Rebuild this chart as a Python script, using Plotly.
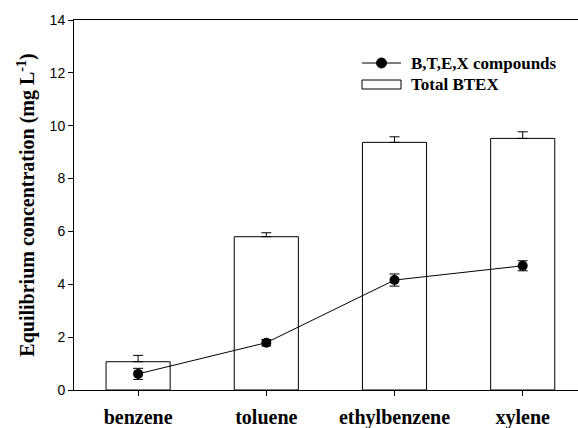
import plotly.graph_objects as go

categories = ["benzene", "toluene", "ethylbenzene", "xylene"]
total_btex = [1.07, 5.80, 9.37, 9.52]
total_btex_err = [0.24, 0.15, 0.21, 0.25]
compounds = [0.61, 1.79, 4.16, 4.70]
compounds_err = [0.21, 0.12, 0.23, 0.19]
y_ticks = [0, 2, 4, 6, 8, 10, 12, 14]

W, H = 578, 428
ML, MR, MT, MB = 74, 0, 20, 38
PW, PH = W - ML - MR, H - MT - MB

serif = "Liberation Serif, Times New Roman, serif"
sans = "Liberation Sans, Arial, sans-serif"

fig = go.Figure()
fig.add_trace(go.Bar(
    x=categories, y=total_btex, width=0.5,
    marker=dict(color="white", line=dict(color="black", width=1)),
    error_y=dict(type="data", array=total_btex_err, arrayminus=[0]*4, symmetric=False,
                 color="black", thickness=1, width=5),
    showlegend=False,
))
fig.add_trace(go.Scatter(
    x=categories, y=compounds, mode="lines+markers",
    line=dict(color="black", width=1),
    marker=dict(color="black", size=10),
    error_y=dict(type="data", array=compounds_err, color="black", thickness=1, width=5),
    showlegend=False,
))

def px_x(px):
    return (px - ML) / PW

def px_y(py):
    return (H - MB - py) / PH

shapes = [
    dict(type="line", xref="paper", yref="paper", x0=px_x(362), x1=px_x(401), y0=px_y(63), y1=px_y(63),
         line=dict(color="black", width=1)),
    dict(type="circle", xref="paper", yref="paper", xsizemode="pixel", ysizemode="pixel",
         xanchor=px_x(381.5), yanchor=px_y(63), x0=-5, x1=5, y0=-5, y1=5,
         fillcolor="black", line=dict(color="black", width=1)),
    dict(type="rect", xref="paper", yref="paper", x0=px_x(362), x1=px_x(401), y0=px_y(80), y1=px_y(89),
         fillcolor="white", line=dict(color="black", width=1)),
]
annotations = [
    dict(text="<b>B,T,E,X compounds</b>", xref="paper", yref="paper", x=px_x(409), y=px_y(63),
         xanchor="left", yanchor="middle", showarrow=False, font=dict(family=serif, size=17, color="black")),
    dict(text="<b>Total BTEX</b>", xref="paper", yref="paper", x=px_x(409), y=px_y(84),
         xanchor="left", yanchor="middle", showarrow=False, font=dict(family=serif, size=17, color="black")),
]

fig.update_layout(
    width=W, height=H,
    margin=dict(l=ML, r=MR, t=MT, b=MB, pad=0),
    plot_bgcolor="white", paper_bgcolor="white",
    shapes=shapes, annotations=annotations,
    bargap=0.5,
)
fig.update_xaxes(
    type="category", range=[-0.5, -0.5 + PW / 128.2],
    showline=True, linecolor="black", linewidth=1, mirror=True,
    ticks="outside", ticklen=5, tickcolor="black",
    tickfont=dict(family=serif, size=20, color="black"),
    tickprefix="<b>", ticksuffix="</b>", ticklabelstandoff=4,
    showgrid=False, zeroline=False,
)
fig.update_yaxes(
    range=[0, 14], tickvals=y_ticks,
    showline=True, linecolor="black", linewidth=1,
    ticks="outside", ticklen=5, tickcolor="black",
    tickfont=dict(family=sans, size=14, color="black"),
    showgrid=False, zeroline=False,
    title=dict(text="<b>Equilibrium concentration (mg L<sup>-1</sup>)</b>",
               font=dict(family=serif, size=20, color="black"), standoff=9),
)

fig.write_html("out.html")
